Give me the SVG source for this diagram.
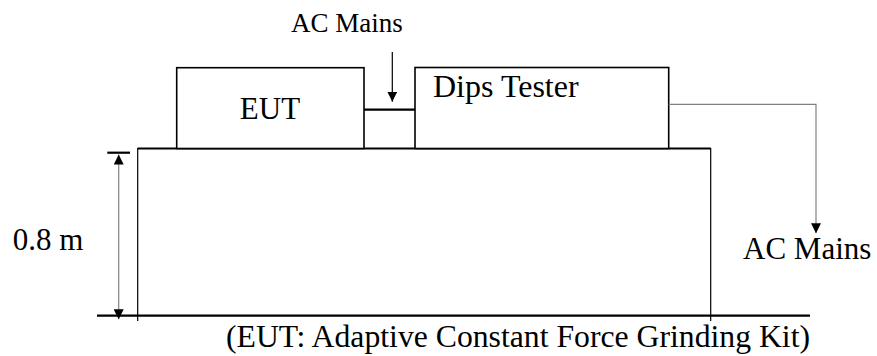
<svg xmlns="http://www.w3.org/2000/svg" width="877" height="356" viewBox="0 0 877 356">
  <style>
    .box { fill: #ffffff; stroke: #000000; stroke-width: 1.6; }
    .txt { font-family: "Liberation Serif", "Times New Roman", serif; fill: #000000; }
    .wire { fill: none; stroke: #000000; stroke-width: 1.2; }
    .thin { fill: none; stroke: #808080; stroke-width: 1.2; }
    .bold { fill: none; stroke: #000000; stroke-width: 2.2; }
  </style>
  <defs>
    <marker id="arrow" viewBox="0 0 10 10" refX="10" refY="5" markerWidth="10" markerHeight="10" markerUnits="userSpaceOnUse" orient="auto">
      <path d="M0,0 L10,5 L0,10 Z" fill="#000000"/>
    </marker>
  </defs>
  <rect width="877" height="356" fill="#ffffff"/>

  <!-- table standing on the floor -->
  <g id="table">
    <path class="wire" d="M137.7,321 V148.5 H710.7 V321"/>
    <line class="bold" x1="137.7" y1="148.5" x2="710.7" y2="148.5"/>
  </g>

  <!-- floor line -->
  <g id="floor">
    <line class="bold" x1="97" y1="315.7" x2="810" y2="315.7"/>
  </g>

  <!-- equipment under test -->
  <g id="eut">
    <rect class="box" x="176.7" y="67.7" width="187.3" height="80.8"/>
    <text class="txt" x="270" y="119" font-size="31" text-anchor="middle">EUT</text>
  </g>

  <!-- dips tester -->
  <g id="dips-tester">
    <rect class="box" x="415" y="67.5" width="253.7" height="81"/>
    <text class="txt" x="433" y="97" font-size="32">Dips Tester</text>
  </g>

  <!-- labels -->
  <g id="ac-mains-top">
    <text class="txt" x="347" y="32" font-size="27" text-anchor="middle">AC Mains</text>
  </g>
  <g id="ac-mains-right">
    <text class="txt" x="743" y="259" font-size="31">AC Mains</text>
  </g>
  <g id="height-label">
    <text class="txt" x="12.7" y="250" font-size="31">0.8 m</text>
  </g>
  <g id="caption">
    <text class="txt" x="226" y="346.7" font-size="31.5" textLength="584" lengthAdjust="spacingAndGlyphs">(EUT: Adaptive Constant Force Grinding Kit)</text>
  </g>

  <!-- connectors -->
  <g id="connectors">
    <line class="bold" x1="364" y1="109.7" x2="415" y2="109.7"/>
    <line class="wire" x1="392.3" y1="52" x2="392.3" y2="101.7" marker-end="url(#arrow)"/>
    <path class="thin" d="M668.7,104.3 H816 V233.3" marker-end="url(#arrow)"/>
    <!-- 0.8 m dimension -->
    <line class="bold" x1="107.3" y1="152.7" x2="130" y2="152.7"/>
    <line class="thin" x1="118.7" y1="236" x2="118.7" y2="154.5" marker-end="url(#arrow)"/>
    <line class="thin" x1="118.7" y1="236" x2="118.7" y2="319.3" marker-end="url(#arrow)"/>
  </g>
</svg>
